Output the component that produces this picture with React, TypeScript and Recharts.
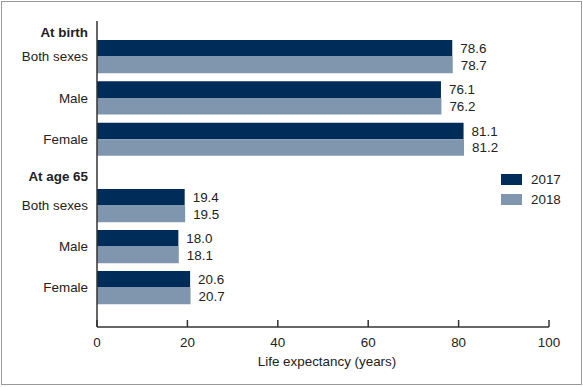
import { Bar, BarChart, LabelList, Legend, XAxis, YAxis } from "recharts";

const groups = ["Both sexes", "Male", "Female"];
const sections = ["At birth", "At age 65"];
const years = ["2017", "2018"];
const birth2017 = [78.6, 76.1, 81.1];
const birth2018 = [78.7, 76.2, 81.2];
const age65_2017 = [19.4, 18.0, 20.6];
const age65_2018 = [19.5, 18.1, 20.7];
const xTicks = [0, 20, 40, 60, 80, 100];

const DARK = "#002c5a";
const LIGHT = "#8096ae";
const INK = "#222";
const FONT = "Arial, 'Liberation Sans', sans-serif";
const FS = 13.4;

const birthRows = groups.map((g, i) => ({ group: g, y2017: birth2017[i], y2018: birth2018[i] }));
const age65Rows = groups.map((g, i) => ({ group: g, y2017: age65_2017[i], y2018: age65_2018[i] }));

function SectionTitle(props: any) {
  const vb = props.viewBox || { x: 0, y: props.fallbackY ?? 0, width: 97 };
  return (
    <text x={vb.x + vb.width - 9} y={vb.y + props.baseline} textAnchor="end" fontWeight="bold" fontSize={FS} fill={INK} fontFamily={FONT}>
      {props.text}
    </text>
  );
}

function YearLegend({ payload }: any) {
  return (
    <div style={{ fontFamily: FONT, fontSize: FS, color: INK }}>
      {(payload || []).map((p: any) => (
        <div key={p.value} style={{ display: "flex", alignItems: "center", height: 20 }}>
          <span style={{ display: "inline-block", width: 21, height: 11, background: p.color, marginRight: 9 }} />
          <span>{p.value}</span>
        </div>
      ))}
    </div>
  );
}

const fmt = (v: any) => Number(v).toFixed(1);

function Bars() {
  return [
    <Bar key="a" dataKey="y2017" name={years[0]} fill={DARK} barSize={16.6} isAnimationActive={false}>
      <LabelList dataKey="y2017" position="right" offset={8} formatter={fmt} fill={INK} fontSize={FS} fontFamily={FONT} />
    </Bar>,
    <Bar key="b" dataKey="y2018" name={years[1]} fill={LIGHT} barSize={16.6} isAnimationActive={false}>
      <LabelList dataKey="y2018" position="right" offset={8} formatter={fmt} fill={INK} fontSize={FS} fontFamily={FONT} />
    </Bar>,
  ];
}

export default function App() {
  const axisTick = { fill: INK, fontSize: FS, fontFamily: FONT };
  return (
    <div style={{ position: "relative", width: 583, height: 387, background: "#fff", fontFamily: FONT }}>
      <style>{"body{margin:0}"}</style>
      <div style={{ position: "absolute", left: 1, top: 1, width: 581, height: 384, border: "1px solid #999", boxSizing: "border-box" }} />

      <div style={{ position: "absolute", left: 0, top: 0 }}>
        <BarChart width={583} height={170} data={birthRows} layout="vertical" barGap={0} margin={{ top: 21, right: 34, bottom: 0, left: 0 }}>
          <XAxis type="number" domain={[0, 100]} ticks={xTicks} hide />
          <YAxis
            type="category"
            dataKey="group"
            width={97}
            padding={{ top: 15, bottom: 10 }}
            tickLine={false}
            tickSize={0}
            tickMargin={9}
            tick={axisTick}
            axisLine={{ stroke: "#333", strokeWidth: 1.5 }}
            label={<SectionTitle text={sections[0]} baseline={16} />}
          />
          {Bars()}
        </BarChart>
      </div>

      <div style={{ position: "absolute", left: 0, top: 170 }}>
        <BarChart width={583} height={217} data={age65Rows} layout="vertical" barGap={0} margin={{ top: 0, right: 34, bottom: 0, left: 0 }}>
          <XAxis
            type="number"
            domain={[0, 100]}
            ticks={xTicks}
            height={60}
            tickSize={-7}
            tickMargin={17}
            tick={axisTick}
            tickLine={{ stroke: "#333", strokeWidth: 1.5 }}
            axisLine={{ stroke: "#333", strokeWidth: 1.5 }}
            label={{ value: "Life expectancy (years)", position: "insideBottom", offset: 21, dx: 4, fill: INK, fontSize: FS, fontFamily: FONT }}
          />
          <YAxis
            type="category"
            dataKey="group"
            width={97}
            padding={{ top: 15, bottom: 19 }}
            tickLine={false}
            tickSize={0}
            tickMargin={9}
            tick={axisTick}
            axisLine={{ stroke: "#333", strokeWidth: 1.5 }}
            label={<SectionTitle text={sections[1]} baseline={11} />}
          />
          <Legend
            layout="horizontal"
            verticalAlign="middle"
            align="center"
            content={<YearLegend />}
            wrapperStyle={{ top: -1, left: 501, width: 70, height: 40 }}
          />
          {Bars()}
        </BarChart>
      </div>
    </div>
  );
}
